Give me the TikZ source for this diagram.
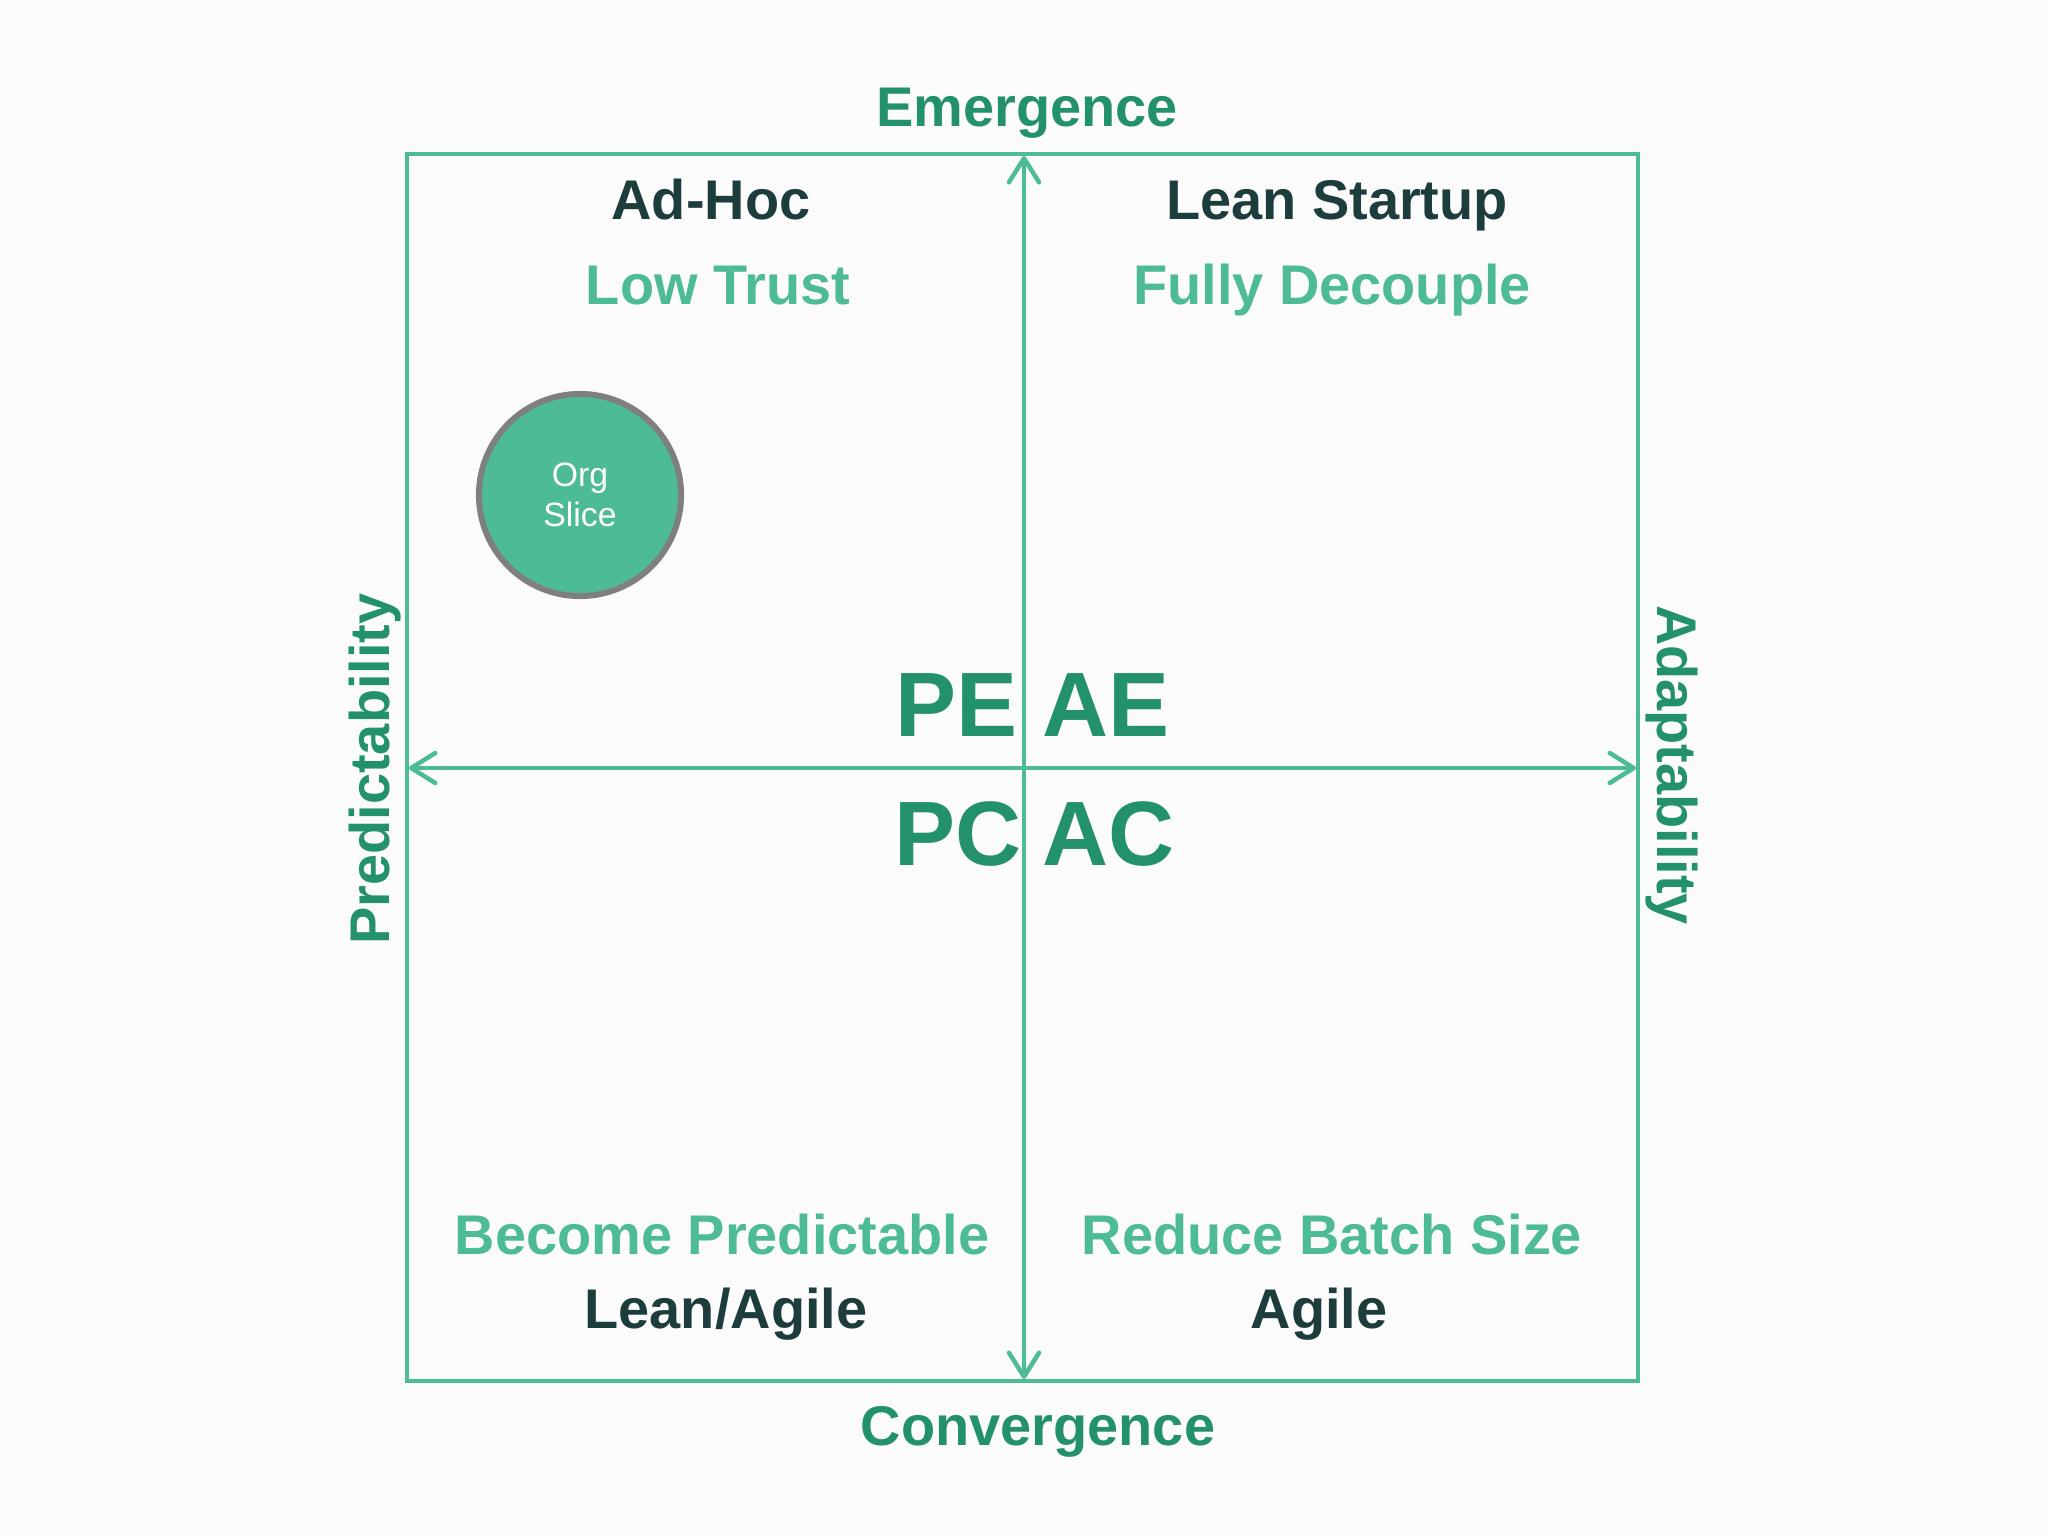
\documentclass[tikz,border=0pt]{standalone}
\usepackage{fontspec}
\setmainfont{Liberation Sans}
\usetikzlibrary{arrows.meta}
\definecolor{mint}{HTML}{4DBB94}
\definecolor{deepgreen}{HTML}{23916A}
\definecolor{darkteal}{HTML}{1C3D3B}
\definecolor{ringgray}{HTML}{7F7F7F}
\definecolor{paper}{HTML}{FBFBFB}
\begin{document}
\begin{tikzpicture}[x=0.01cm,y=-0.01cm,
  axislbl/.style={font=\fontsize{15.9}{19}\selectfont\bfseries, text=deepgreen, anchor=base, inner sep=0pt},
  quadtitle/.style={font=\fontsize{15.9}{19}\selectfont\bfseries, text=darkteal, anchor=base, inner sep=0pt},
  quadhint/.style={font=\fontsize{15.9}{19}\selectfont\bfseries, text=mint, anchor=base, inner sep=0pt},
  biglbl/.style={font=\fontsize{26}{30}\selectfont\bfseries, text=deepgreen, anchor=base, inner sep=0pt},
  frameline/.style={draw=mint, line width=0.045cm},
  axisarrow/.style={draw=mint, line width=0.045cm,
    {Straight Barb[length=0.24cm,width=0.3cm,round]}-{Straight Barb[length=0.24cm,width=0.3cm,round]}},
  orgdot/.style={circle, draw=ringgray, line width=0.06cm, fill=mint, minimum size=2.02cm, inner sep=0pt,
    text=white, align=center, font=\fontsize{9.6}{11.4}\selectfont}
]
\fill[paper] (0,0) rectangle (2048,1536);
\useasboundingbox (0,0) rectangle (2048,1536);

% frame
\draw[frameline] (407,154) rectangle (1638,1381);

% axes
\coordinate (axtop) at (1024,156);
\coordinate (axbot) at (1024,1379);
\coordinate (axleft) at (409,768);
\coordinate (axright) at (1636,768);
\draw[axisarrow] (axbot) -- (axtop);
\draw[axisarrow] (axleft) -- (axright);

% axis labels
\node[axislbl] (emer) at (1027,126) {Emergence};
\node[axislbl] (conv) at (1038,1445) {Convergence};
\node[axislbl, rotate=90] (pred) at (389,769) {Predictability};
\node[axislbl, rotate=-90] (adap) at (1657,765) {Adaptability};

% quadrant titles
\node[quadtitle] (adhoc) at (711,219) {Ad-Hoc};
\node[quadhint] (lowtrust) at (718,304) {Low Trust};
\node[quadtitle] (leanstart) at (1337,219) {Lean Startup};
\node[quadhint] (decouple) at (1332,304) {Fully Decouple};
\node[quadhint] (becpred) at (722,1254) {Become Predictable};
\node[quadtitle] (leanagile) at (726,1328) {Lean/Agile};
\node[quadhint] (batch) at (1332,1254) {Reduce Batch Size};
\node[quadtitle] (agile) at (1319,1328) {Agile};

% center codes
\node[biglbl] (pe) at (956,736) {PE};
\node[biglbl] (ae) at (1106,736) {AE};
\node[biglbl] (pc) at (958,865) {PC};
\node[biglbl] (ac) at (1109,865) {AC};

% org slice
\node[orgdot] (org) at (580,495) {Org\\Slice};
\end{tikzpicture}
\end{document}
